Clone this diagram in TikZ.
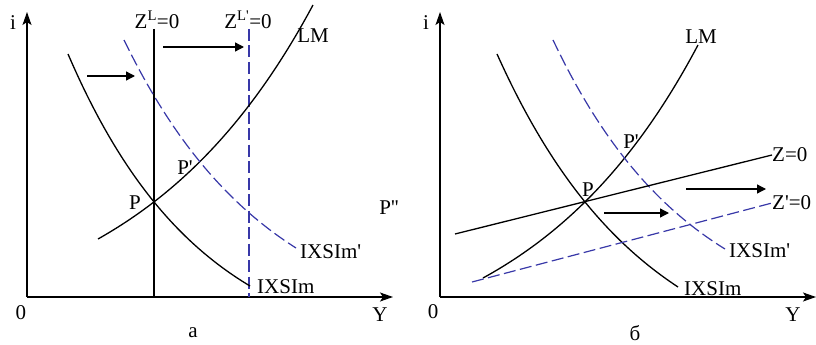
\documentclass[tikz,border=0pt]{standalone}
\usepackage{fontspec}
\setmainfont{Liberation Serif}
\usetikzlibrary{arrows.meta}
\definecolor{dblue}{RGB}{56,56,168}
\newcommand{\pr}{\textquotesingle}
\begin{document}
\begin{tikzpicture}[x=1pt,y=-1pt,
  curve/.style={line width=1.3pt,black},
  bluedash/.style={line width=1.2pt,dblue,dash pattern=on 12pt off 4.5pt},
  axis/.style={line width=1.3pt,-{Stealth[length=13pt,width=9pt,inset=3pt]}},
  shiftarrow/.style={line width=1.3pt,-{Triangle[length=9pt,width=9pt]}},
  lbl/.style={font=\fontsize{21}{25}\selectfont,inner sep=0pt}]
\useasboundingbox (0,0) rectangle (816,345);

% ---------------- left panel ----------------
\coordinate (O1) at (27,297);
\coordinate (Ytop1) at (27,12);
\coordinate (Xend1) at (393,297);
\draw[axis] (O1) -- (Ytop1);
\draw[axis] (O1) -- (Xend1);
\node[lbl] (i1) at (13,23) {i};
\node[lbl] (zero1) at (21,313) {0};
\node[lbl] (Y1) at (380,315) {Y};
\node[lbl] (a1) at (193,333) {а};

\coordinate (ZLt) at (154,29);
\coordinate (ZLb) at (154,297);
\draw[curve] (ZLt) -- (ZLb);
\coordinate (ZLpt) at (249,29);
\coordinate (ZLpb) at (249,297);
\draw[bluedash] (ZLpt) -- (ZLpb);
\node[lbl] (ZL) at (157,20) {Z\textsuperscript{L}=0};
\node[lbl] (ZLp) at (248,20) {Z\textsuperscript{L\pr}=0};

\coordinate (ar1s) at (163,47);
\coordinate (ar1e) at (244,47);
\draw[shiftarrow] (ar1s) -- (ar1e);
\coordinate (ar2s) at (87,76);
\coordinate (ar2e) at (135,76);
\draw[shiftarrow] (ar2s) -- (ar2e);

% IXSIm
\draw[curve] plot[domain=68:250,samples=60]
  ({\x},{297-(11+232*(exp(-(\x-68)/134)-exp(-182/134))/(1-exp(-182/134)))});
% LM
\draw[curve] plot[domain=98:313,samples=60]
  ({\x},{297-(58+234*(exp((\x-98)/180)-1)/(exp(215/180)-1))});
% IXSIm'
\draw[bluedash] plot[domain=124:296,samples=60]
  ({\x},{297-(49+208*(exp(-(\x-124)/146)-exp(-172/146))/(1-exp(-172/146)))});

\node[lbl] (LM1) at (313,36) {LM};
\node[lbl,anchor=west] (IX1) at (257,287) {IXSIm};
\node[lbl,anchor=west] (IXp1) at (300,252) {IXSIm\pr};
\node[lbl] (P1) at (135,203) {P};
\node[lbl] (Pp1) at (185,168) {P\pr};
\node[lbl] (Ppp1) at (389,208) {P\pr\pr};

% ---------------- right panel ----------------
\coordinate (O2) at (440,297);
\coordinate (Ytop2) at (440,12);
\coordinate (Xend2) at (816,297);
\draw[axis] (O2) -- (Ytop2);
\draw[axis] (O2) -- (Xend2);
\node[lbl] (i2) at (426,23) {i};
\node[lbl] (zero2) at (433,312) {0};
\node[lbl] (Y2) at (793,315) {Y};
\node[lbl] (b2) at (635,333) {б};

% LM
\draw[curve] plot[domain=483:698,samples=60]
  ({\x},{297-(19+233*(exp((\x-483)/174)-1)/(exp(215/174)-1))});
% IXSIm
\draw[curve] plot[domain=497:678,samples=60]
  ({\x},{297-(10+233*(exp(-(\x-497)/148)-exp(-181/148))/(1-exp(-181/148)))});
% IXSIm'
\draw[bluedash] plot[domain=553:725,samples=60]
  ({\x},{297-(48+209*(exp(-(\x-553)/140)-exp(-172/140))/(1-exp(-172/140)))});

\coordinate (Zs) at (455,234);
\coordinate (Ze) at (772,155);
\draw[curve] (Zs) -- (Ze);
\coordinate (Zps) at (472,282);
\coordinate (Zpe) at (772,203);
\draw[bluedash] (Zps) -- (Zpe);

\coordinate (ar3s) at (604,213);
\coordinate (ar3e) at (669,213);
\draw[shiftarrow] (ar3s) -- (ar3e);
\coordinate (ar4s) at (686,189);
\coordinate (ar4e) at (766,189);
\draw[shiftarrow] (ar4s) -- (ar4e);

\node[lbl] (LM2) at (701,37) {LM};
\node[lbl,anchor=west] (IX2) at (684,289) {IXSIm};
\node[lbl,anchor=west] (IXp2) at (729,251) {IXSIm\pr};
\node[lbl,anchor=west] (Z0) at (772,155) {Z=0};
\node[lbl,anchor=west] (Zp0) at (772,203) {Z\pr=0};
\node[lbl] (P2) at (588,190) {P};
\node[lbl] (Pp2) at (631,142) {P\pr};
\end{tikzpicture}
\end{document}
